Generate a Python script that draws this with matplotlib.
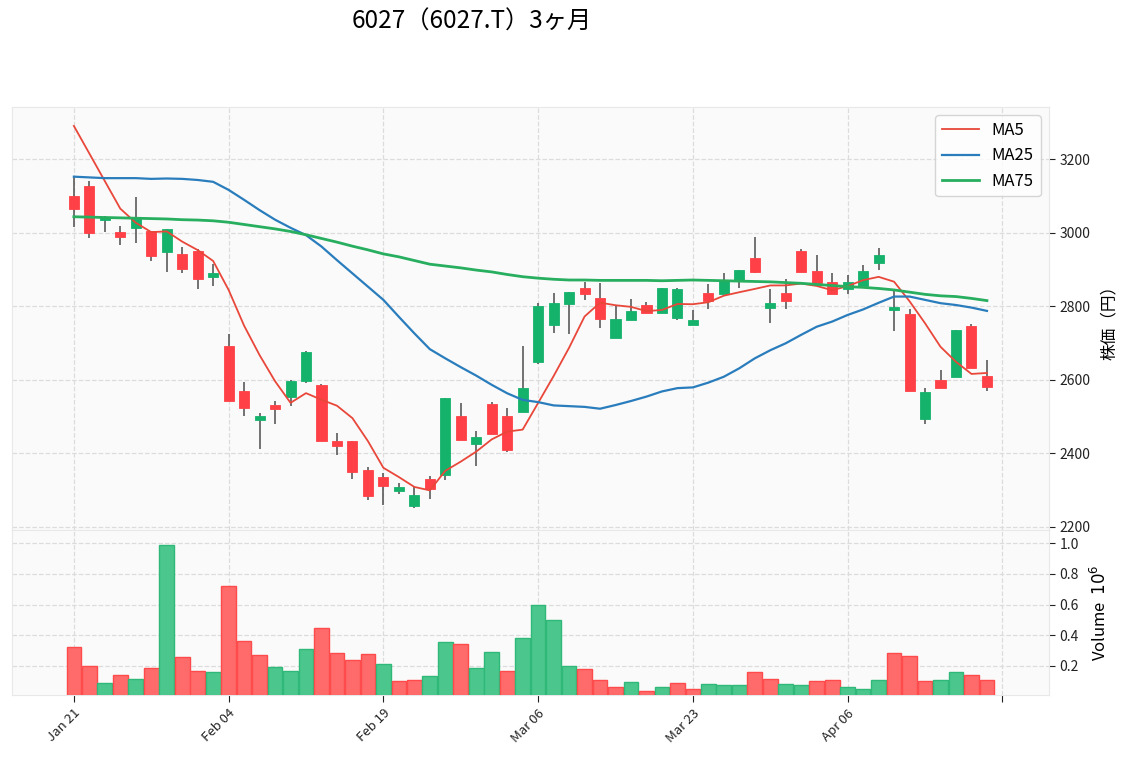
import numpy as np
import matplotlib
matplotlib.use('Agg')
import matplotlib.pyplot as plt

plt.rcParams['font.family'] = ['Noto Sans CJK JP', 'DejaVu Sans']

# daily OHLC
opens = [3099, 3127, 3034, 3001, 3013, 3003, 2948, 2942, 2950, 2878,
         2692, 2569, 2489, 2531, 2554, 2597, 2586, 2433, 2433, 2355,
         2335, 2296, 2257, 2330, 2341, 2502, 2426, 2534, 2502, 2511,
         2649, 2750, 2807, 2848, 2822, 2714, 2762, 2802, 2780, 2769,
         2750, 2836, 2833, 2868, 2931, 2794, 2836, 2950, 2896, 2865,
         2846, 2856, 2918, 2789, 2779, 2494, 2599, 2608, 2746, 2610]
highs = [3152, 3140, 3045, 3019, 3096, 3004, 3011, 2960, 2955, 2914,
         2723, 2595, 2509, 2541, 2598, 2677, 2587, 2456, 2433, 2362,
         2346, 2320, 2308, 2339, 2551, 2536, 2461, 2539, 2522, 2692,
         2808, 2835, 2838, 2865, 2862, 2799, 2819, 2812, 2850, 2849,
         2790, 2860, 2889, 2897, 2987, 2846, 2873, 2954, 2938, 2889,
         2885, 2912, 2957, 2841, 2792, 2577, 2627, 2735, 2751, 2654]
lows = [3014, 2984, 3001, 2966, 2971, 2923, 2894, 2889, 2846, 2855,
        2543, 2502, 2411, 2480, 2529, 2590, 2434, 2395, 2329, 2272,
        2258, 2289, 2251, 2276, 2328, 2437, 2366, 2453, 2403, 2511,
        2643, 2726, 2724, 2816, 2740, 2714, 2761, 2780, 2780, 2761,
        2750, 2791, 2833, 2849, 2889, 2753, 2791, 2894, 2864, 2834,
        2832, 2856, 2898, 2733, 2568, 2480, 2576, 2608, 2633, 2569]
closes = [3065, 3000, 3041, 2989, 3039, 2937, 3010, 2902, 2874, 2891,
          2543, 2524, 2502, 2519, 2597, 2675, 2434, 2421, 2350, 2285,
          2312, 2308, 2287, 2303, 2551, 2437, 2444, 2453, 2409, 2578,
          2800, 2809, 2838, 2834, 2766, 2765, 2787, 2780, 2850, 2847,
          2762, 2814, 2869, 2897, 2892, 2809, 2815, 2894, 2864, 2834,
          2865, 2896, 2939, 2798, 2568, 2566, 2576, 2735, 2633, 2581]
# volume in millions of shares
volume = [0.322, 0.196, 0.091, 0.142, 0.117, 0.187, 0.989, 0.258, 0.168, 0.161,
          0.720, 0.360, 0.271, 0.194, 0.168, 0.309, 0.450, 0.283, 0.239, 0.277,
          0.213, 0.104, 0.110, 0.132, 0.354, 0.341, 0.183, 0.290, 0.168, 0.380,
          0.600, 0.497, 0.196, 0.181, 0.110, 0.065, 0.097, 0.033, 0.065, 0.091,
          0.052, 0.084, 0.078, 0.078, 0.161, 0.117, 0.084, 0.078, 0.104, 0.110,
          0.059, 0.046, 0.110, 0.283, 0.264, 0.104, 0.110, 0.161, 0.142, 0.110]

# moving averages (history before the window is not shown, so read off the chart)
ma5_head = [3290, 3215, 3140, 3065]
ma25 = [3152, 3150, 3148, 3148, 3148, 3146, 3147, 3146, 3143, 3138,
        3116, 3089, 3061, 3035, 3013, 2993, 2962, 2925, 2889, 2853,
        2817, 2771, 2726, 2683, 2658, 2634, 2611, 2586, 2563, 2545,
        2539, 2530, 2528, 2526, 2521, 2531, 2542, 2554, 2568, 2577,
        2579, 2592, 2608, 2631, 2658, 2680, 2699, 2722, 2744, 2758,
        2776, 2791, 2809, 2826, 2826, 2817, 2808, 2803, 2796, 2787]
ma75 = [3043, 3042, 3041, 3040, 3039, 3038, 3037, 3035, 3034, 3032,
        3028, 3022, 3016, 3010, 3003, 2994, 2984, 2974, 2963, 2953,
        2942, 2934, 2924, 2914, 2909, 2904, 2898, 2893, 2886, 2880,
        2876, 2873, 2871, 2871, 2870, 2870, 2870, 2870, 2869, 2870,
        2871, 2870, 2869, 2868, 2867, 2866, 2864, 2862, 2859, 2856,
        2853, 2851, 2848, 2844, 2838, 2832, 2828, 2826, 2821, 2815]

tick_labels = ['Jan 21', 'Feb 04', 'Feb 19', 'Mar 06', 'Mar 23', 'Apr 06', '']

UP = '#15b26b'
DOWN = '#ff4046'
VUP = '#4bc78e'
VDOWN = '#ff6b6b'

o = np.array(opens, float)
h = np.array(highs, float)
l = np.array(lows, float)
c = np.array(closes, float)
v = np.array(volume, float)
n = len(c)
x = np.arange(n)

roll = np.convolve(c, np.ones(5) / 5, mode='valid')
ma5 = np.concatenate([ma5_head, roll])

fig = plt.figure(figsize=(11.29, 7.60), dpi=100)
ax = fig.add_axes([0.0106, 0.303, 0.9184, 0.556])
axv = fig.add_axes([0.0106, 0.0855, 0.9184, 0.2175], sharex=ax)

for a in (ax, axv):
    a.set_facecolor('#fafafa')
    a.grid(True, linestyle='--', color='#dcdcdc', linewidth=0.9)
    a.set_axisbelow(True)
    for s in a.spines.values():
        s.set_color('#e8e8e8')
    a.yaxis.tick_right()
    a.yaxis.set_label_position('right')
    a.tick_params(axis='y', labelsize=10, colors='#222222', length=4)

# candles
up = c >= o
cols = np.where(up, UP, DOWN)
ax.vlines(x, l, h, color='#4d4d4d', linewidth=1.1, zorder=2)
ax.bar(x, np.abs(c - o), bottom=np.minimum(o, c), width=0.65,
       color=cols, edgecolor=cols, linewidth=0.6, zorder=3)

ax.plot(x, ma5, color='#e8473a', linewidth=1.3, label='MA5', zorder=4)
ax.plot(x, ma25, color='#2a7dbc', linewidth=1.6, label='MA25', zorder=4)
ax.plot(x, ma75, color='#27ae5f', linewidth=2.0, label='MA75', zorder=4)

ax.set_ylim(2192, 3341)
ax.set_yticks([2200, 2400, 2600, 2800, 3000, 3200])
ax.set_ylabel('株価（円）', fontsize=12, labelpad=8)
ax.legend(loc='upper right', fontsize=12, frameon=True, facecolor='white',
          edgecolor='#cccccc', handlelength=2.2, borderpad=0.4)
ax.tick_params(axis='x', labelbottom=False, length=0)

# volume, coloured by close vs previous close
prev = np.concatenate([[o[0]], c[:-1]])
vcols = np.where(c > prev, VUP, VDOWN)
vedge = np.where(c > prev, '#2fb877', '#ff4b4b')
axv.bar(x, v, width=0.95, color=vcols, edgecolor=vedge, linewidth=1.0, zorder=3)
axv.set_ylim(0.3 * v.min(), 1.1 * v.max())
axv.set_yticks([0.2, 0.4, 0.6, 0.8, 1.0])
axv.set_ylabel('Volume  $10^6$', fontsize=12, labelpad=8)

axv.set_xlim(-4.0, 63.0)
axv.set_xticks(np.arange(0, 61, 10))
axv.set_xticklabels(tick_labels, rotation=45, ha='right', fontsize=9.5,
                    rotation_mode='anchor')
axv.tick_params(axis='x', length=5, colors='#222222')

fig.text(0.418, 0.971, '6027（6027.T）3ヶ月', ha='center', va='center',
         fontsize=17.5)

fig.savefig('out.png', dpi=100)
